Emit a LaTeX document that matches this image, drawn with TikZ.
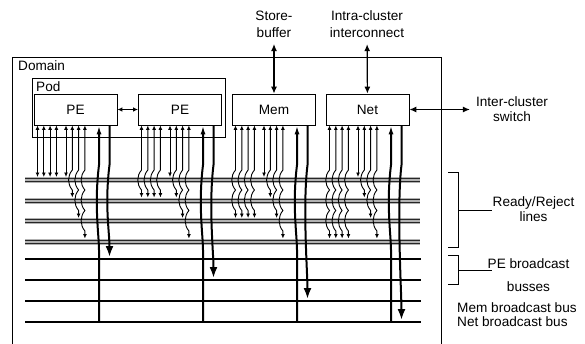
\documentclass[tikz,border=0pt]{standalone}
\usepackage{fontspec}
\setmainfont{Liberation Sans}
\usetikzlibrary{arrows.meta,calc}

\tikzset{
  unit/.style={shape=rectangle,draw=black,line width=0.8pt,minimum width=83pt,minimum height=31pt,font=\fontsize{13.6}{15}\selectfont},
  lbl/.style={font=\fontsize{13.6}{15}\selectfont,inner sep=0pt},
  ext/.style={font=\fontsize{13.6}{17}\selectfont,align=center,inner sep=6pt},
  link/.style={line width=1.2pt,>={Latex[length=7pt,width=6pt]}},
  rr/.style={line width=0.9pt,>={Latex[length=4.5pt,width=4pt]}},
  bundle/.style={line width=6pt,draw=gray!60},
  busline/.style={line width=1.8pt},
  wireup/.style={line width=2pt,{Latex[length=9pt,width=5pt]}-},
  wiredown/.style={line width=2pt,-{Latex[length=11pt,width=8pt]}}
}

\begin{document}
\begin{tikzpicture}[x=1pt,y=-1pt]
        \useasboundingbox (0,0) rectangle (585,343);

        \node[draw=black,line width=0.8pt,minimum width=429pt,minimum height=300pt,anchor=north west] (domain) at (12,57) {};
        \node[lbl,anchor=base west] (domlab) at (18,70) {Domain};
        \node[draw=black,line width=0.8pt,minimum width=193pt,minimum height=59pt] (pod) at (128.5,107.5) {};
        \node[lbl,anchor=base west] (podlab) at (36,91) {Pod};

        \node[unit] (pe1) at (75.5,109.5) {PE};
        \node[unit] (pe2) at (180,109.5) {PE};
        \node[unit] (mem) at (274,109.5) {Mem};
        \node[unit] (net) at (367.5,109.5) {Net};

        \node[ext] (sb) at (274,24.5) {Store-\\buffer};
        \node[ext] (ic) at (367,24.5) {Intra-cluster\\interconnect};
        \node[ext,font=\fontsize{13.6}{15}\selectfont] (ics) at (512,109.5) {Inter-cluster\\switch};
        \node[ext,font=\fontsize{13.6}{15}\selectfont] (rrlab) at (533.5,209.5) {Ready/Reject\\lines};
        \node[ext] (pelab) at (528.5,275) {PE broadcast\\[6pt]busses};
        \node[lbl,anchor=west] (memlab) at (457,307.5) {Mem broadcast bus};
        \node[lbl,anchor=west] (netlab) at (457,321.5) {Net broadcast bus};

        \path [link,<->] (sb) edge (mem);
        \path [link,<->] (ic) edge (net);
        \path [link,<->] (net) edge (ics);
        \path [link,<->,>={Latex[length=5pt,width=4.5pt]}] (pe1) edge (pe2);

        \draw[line width=0.8pt] (448,172) -| (458,247) -- (448,247);
        \draw[line width=0.8pt] (458,210) -- (492,210);
        \draw[line width=0.8pt] (448,255) -| (458,284) -- (448,284);
        \draw[line width=0.8pt] (458,270) -- (492,270);

        \foreach \i/\y in {1/180,2/200.5,3/221,4/241.5} {
            \coordinate (rr\i) at (25,\y);
            \draw[bundle] (rr\i) -- (420,\y);
            \draw[line width=0.7pt,black!85] (25,\y-1.6) -- (420,\y-1.6);
            \draw[line width=0.7pt,black!85] (25,\y+1.6) -- (420,\y+1.6);
        }
        \foreach \i/\y in {1/259,2/280,3/301,4/322} {
            \coordinate (bus\i) at (25,\y);
            \draw[busline] (bus\i) -- (421,\y);
        }

        \foreach \u/\xl/\k in {pe1/34/1,pe2/138/2,mem/232/3,net/326/4} {
            \foreach \d [count=\j] in {3.5,9.8,16.1,22.4} {
                \foreach \wx/\t in {\xl+\d/\k,\xl+\d+28.5/\j} {
                    \ifnum\t=1\relax
                        \draw[rr,<->] (\wx,0 |- \u.south) -- ($(\wx,0 |- rr1)+(0,-3)$);
                    \else
                        \pgfmathtruncatemacro\last{\t-1}
                        \draw[rr,<->] (\wx,0 |- \u.south) -- ($(\wx,0 |- rr1)+(0,-10)$)
                            \foreach \m in {1,...,\last} { .. controls +(-5,6) and +(-5,-6) .. ($(\wx,0 |- rr\m)+(0,10)$) }
                            -- ($(\wx,0 |- rr\t)+(0,-3)$);
                    \fi
                }
            }
            \draw[wireup] (\xl+65,0 |- \u.south) -- (\xl+65,165) .. controls +(-5,40) and +(0,-15) .. (\xl+65,250) -- (\xl+65,0 |- bus4);
            \draw[wiredown] (\xl+75.5,0 |- \u.south) -- (\xl+75.5,165) .. controls +(-5,40) and +(0,-25) .. ($(\xl+75.5,0 |- bus\k)+(0,-2)$);
        }
\end{tikzpicture}
\end{document}
